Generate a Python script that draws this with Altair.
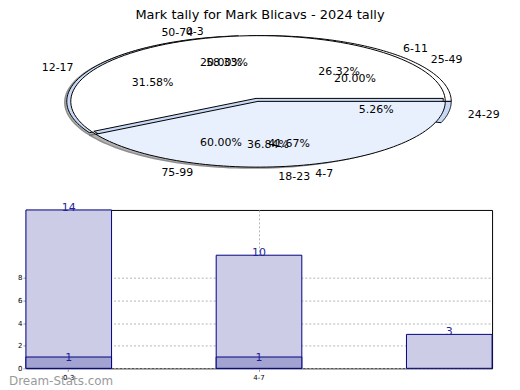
import altair as alt
import pandas as pd

TITLE = "Mark tally for Mark Blicavs - 2024 tally"

# pie data (three overlapping pies as in the reference)
pie1_labels = ["0-3", "4-7"]
pie1_pct = [58.33, 41.67]
pie2_labels = ["6-11", "12-17", "18-23", "24-29"]
pie2_pct = [26.32, 31.58, 36.84, 5.26]
pie3_labels = ["25-49", "50-74", "75-99"]
pie3_pct = [20.00, 20.00, 60.00]

WHITE = "#FFFFFF"
LIGHT = "#E9F0FD"
RIM = "#C6D8F5"

# bar data
bar_cats = ["0-3", "4-7", "8-11"]
bar_total = [14, 10, 3]
bar_inner = [1, 1, 0]
y_ticks = [0, 2, 4, 6, 8]
x_ticks = ["0-3", "4-7"]
WATERMARK = "Dream-Stats.com"

rows = []
for pid, (labs, vals) in enumerate([(pie1_labels, pie1_pct), (pie2_labels, pie2_pct), (pie3_labels, pie3_pct)]):
    for i, (l, v) in enumerate(zip(labs, vals)):
        rows.append({"pie": pid, "ord": i, "label": l, "pct": v})
pie_df = pd.DataFrame(rows)

RX, RY = 188, 66
W1, H1 = 487, 161
B = 79
N = 80
FONT = "DejaVu Sans"

xs = alt.Scale(domain=[-233, 254])
ys = alt.Scale(domain=[B - H1, B])

base = (
    alt.Chart(pie_df)
    .transform_joinaggregate(total="sum(pct)", groupby=["pie"])
    .transform_window(cum="sum(pct)", groupby=["pie"], sort=[alt.SortField("ord")], frame=[None, 0])
    .transform_calculate(a0="2*PI*(datum.cum-datum.pct)/datum.total", a1="2*PI*datum.cum/datum.total")
    .transform_calculate(mid="(datum.a0+datum.a1)/2")
)


def wedge(flt, dx, dy, fill, stroke="black", sw=1.0, opacity=1.0):
    return (
        base.transform_filter(flt)
        .transform_calculate(pts=f"sequence(0, {N + 2})")
        .transform_flatten(["pts"])
        .transform_calculate(
            ang=f"datum.a0 + (datum.a1 - datum.a0) * clamp(datum.pts - 1, 0, {N - 1}) / {N - 1}",
            edge=f"datum.pts > 0 && datum.pts < {N + 1}",
        )
        .transform_calculate(
            px=f"(datum.edge ? cos(datum.ang) * {RX} : 0) + {dx}",
            py=f"(datum.edge ? sin(datum.ang) * {RY} : 0) + {dy}",
        )
        .mark_line(fill=fill, stroke=stroke, strokeWidth=sw, strokeJoin="round", opacity=opacity)
        .encode(
            x=alt.X("px:Q", scale=xs, axis=None),
            y=alt.Y("py:Q", scale=ys, axis=None),
            order="pts:Q",
            detail="label:N",
        )
    )


shadow = wedge("datum.pie == 0", -6, -1, "#9a9a9a", stroke="#6a6a6a", sw=1.5, opacity=0.75)
rim_a = wedge("datum.pie == 1 && datum.label == '6-11'", 6, 0, WHITE)
rim_b = wedge("datum.pie == 1 && datum.label == '24-29'", 6, 0, RIM)
rim_c = wedge("datum.pie == 1 && datum.label == '12-17'", -4, 0, RIM)
main_a = wedge("datum.pie == 0 && datum.label == '0-3'", 0, 0, WHITE)
edge_b = wedge("datum.pie == 0 && datum.label == '4-7'", -2, 3, RIM)
main_b = wedge("datum.pie == 0 && datum.label == '4-7'", 0, 0, LIGHT)

pct_text = base.transform_calculate(
    tx=f"cos(datum.mid) * {RX} * 0.64",
    ty=f"sin(datum.mid) * {RY} * 0.64 - 2",
    txt="format(datum.pct, '.2f') + '%'",
).mark_text(fontSize=11, font=FONT, color="black").encode(
    x=alt.X("tx:Q", scale=xs, axis=None),
    y=alt.Y("ty:Q", scale=ys, axis=None),
    text="txt:N",
)

lab = base.transform_calculate(
    lx=f"cos(datum.mid) * {RX} * 1.12",
    ly=f"sin(datum.mid) * {RY} * 1.12 - 2",
)
lab_right = lab.transform_filter("cos(datum.mid) >= 0").transform_calculate(lx2="datum.lx + 3").mark_text(
    align="left", baseline="middle", fontSize=11, font=FONT, color="black"
).encode(
    x=alt.X("lx2:Q", scale=xs, axis=None),
    y=alt.Y("ly:Q", scale=ys, axis=None),
    text="label:N",
)
lab_left = lab.transform_filter("cos(datum.mid) < 0").mark_text(
    align="right", baseline="middle", fontSize=11, font=FONT, color="black"
).encode(
    x=alt.X("lx:Q", scale=xs, axis=None),
    y=alt.Y("ly:Q", scale=ys, axis=None),
    text="label:N",
)

pie = alt.layer(
    shadow, rim_a, rim_b, rim_c, main_a, edge_b, main_b, pct_text, lab_right, lab_left
).properties(width=W1, height=H1)

# ---- bar chart ----
bar_df = pd.DataFrame({"cat": bar_cats, "total": bar_total, "inner": bar_inner})
grid_kw = dict(grid=True, gridDash=[2, 2], gridColor="#b4b4b4", gridWidth=1)
xax = alt.Axis(values=x_ticks, title=None, labelAngle=0, labelFontSize=7, labelFont=FONT,
               tickSize=3, tickColor="#999999", domain=False, labelPadding=2, bandPosition=0.5, **grid_kw)
xbs = alt.Scale(paddingInner=0.55, paddingOuter=0)
ybs = alt.Scale(domain=[0, 14], nice=False)
yax = alt.Axis(values=y_ticks, title=None, labelFontSize=7, labelFont=FONT, tickSize=3,
               tickColor="#999999", domain=False, labelPadding=1, labelOverlap=False, **grid_kw)


def bx():
    return alt.X("cat:N", sort=bar_cats, scale=xbs, axis=xax)


def by(field):
    return alt.Y(f"{field}:Q", scale=ybs, axis=yax)


bars_total = alt.Chart(bar_df).mark_bar(fill="#CCCCE6", stroke="#000080", strokeWidth=1).encode(
    x=bx(), y=by("total")
)
bars_inner = alt.Chart(bar_df).transform_filter("datum.inner > 0").mark_bar(
    fill="#A3A3D1", stroke="#000080", strokeWidth=1
).encode(x=bx(), y=by("inner"))
text_total = alt.Chart(bar_df).mark_text(color="#1F1F99", fontSize=11, font=FONT, baseline="middle", dy=-2).encode(
    x=bx(), y=by("total"), text="total:Q"
)
text_inner = alt.Chart(bar_df).transform_filter("datum.inner > 0").mark_text(
    color="#1F1F99", fontSize=11, font=FONT, baseline="middle", dy=1
).encode(x=bx(), y=by("inner"), text="inner:Q")
wm = alt.Chart(pd.DataFrame({"t": [WATERMARK]})).mark_text(
    align="left", baseline="middle", fontSize=12, font=FONT, color="#9a9a9a"
).encode(x=alt.value(-17), y=alt.value(172), text="t:N")

bars = alt.layer(bars_total, bars_inner, text_total, text_inner, wm).properties(
    width=468, height=159, view=alt.ViewBackground(stroke="black", strokeWidth=1)
)

chart = alt.vconcat(
    pie, bars, spacing=17,
    title=alt.Title(TITLE, fontSize=13, font=FONT, fontWeight="normal", anchor="middle", offset=0, color="black"),
).properties(padding=0).configure_view(stroke="transparent")

chart.save("out.html", embed_options={"renderer": "svg", "actions": False})
